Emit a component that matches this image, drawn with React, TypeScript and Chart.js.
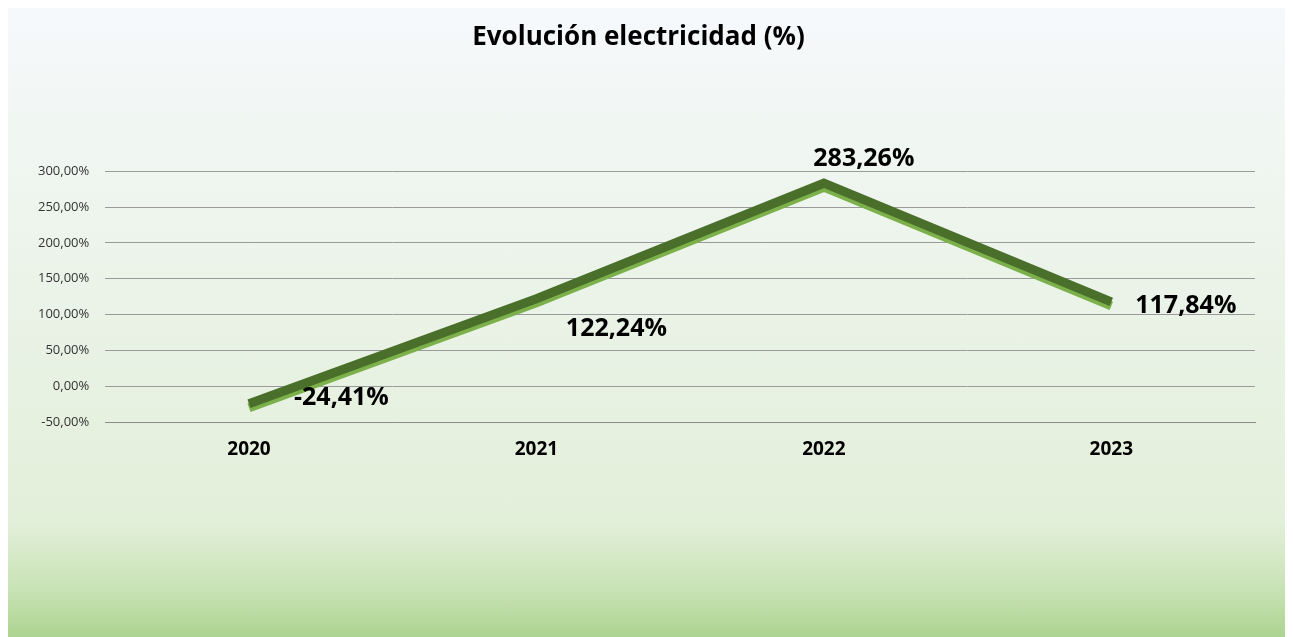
import React, { useEffect, useRef } from "react";
import { Chart, registerables } from "chart.js";

Chart.register(...registerables);

const categories = ["2020", "2021", "2022", "2023"];
const values = [-24.41, 122.24, 283.26, 117.84];
const seriesName = "Evolución electricidad (%)";
const titleText = "Evolución electricidad (%)";
const yMin = -50;
const yMax = 300;
const yStep = 50;

const fmt = (v: number) => v.toFixed(2).replace(".", ",") + "%";

// label placement (style only): offsets from each point
const labelOffsets = [
  { dx: 45, dy: -6, align: "left" },
  { dx: 80, dy: 30, align: "center" },
  { dx: 40, dy: -24, align: "center" },
  { dx: 24, dy: 4, align: "left" },
];

const labelPlugin = {
  id: "pointLabels",
  afterDatasetsDraw(chart: any) {
    const ctx = chart.ctx;
    const meta = chart.getDatasetMeta(0);
    ctx.save();
    ctx.font = "bold 25px 'Open Sans', sans-serif";
    ctx.fillStyle = "#000";
    ctx.textBaseline = "middle";
    meta.data.forEach((pt: any, i: number) => {
      const o = labelOffsets[i];
      ctx.textAlign = o.align;
      ctx.fillText(fmt(values[i]), pt.x + o.dx, pt.y + o.dy);
    });
    ctx.restore();
  },
};

const ribbonPlugin = {
  id: "ribbon",
  beforeDatasetDraw(chart: any) {
    const ctx = chart.ctx;
    ctx.save();
    ctx.shadowColor = "#7cb04a";
    ctx.shadowOffsetX = 0;
    ctx.shadowOffsetY = 4;
    ctx.shadowBlur = 0;
  },
  afterDatasetDraw(chart: any) {
    chart.ctx.restore();
  },
};

export default function App() {
  const ref = useRef<HTMLCanvasElement | null>(null);
  useEffect(() => {
    if (!ref.current) return;
    const chart = new Chart(ref.current, {
      type: "line",
      data: {
        labels: categories,
        datasets: [
          {
            label: seriesName,
            data: values,
            borderColor: "#4a6f2b",
            backgroundColor: "#4a6f2b",
            borderWidth: 9,
            pointRadius: 0,
            tension: 0,
            borderJoinStyle: "miter",
          },
        ],
      },
      options: {
        animation: false,
        responsive: true,
        maintainAspectRatio: false,
        layout: { padding: { top: 10, left: 14, right: 38, bottom: 168 } },
        plugins: {
          legend: { display: false },
          tooltip: { enabled: false },
          title: {
            display: true,
            text: titleText,
            color: "#000",
            font: { family: "'Open Sans', sans-serif", size: 26, weight: "bold" },
            padding: { top: 4, bottom: 118 },
          },
        },
        scales: {
          x: {
            offset: true,
            grid: { display: false },
            border: { display: true, color: "#8c8c8c" },
            ticks: {
              color: "#000",
              font: { family: "'Open Sans', sans-serif", size: 19, weight: "bold" },
              padding: 8,
            },
          },
          y: {
            min: yMin,
            max: yMax,
            ticks: {
              stepSize: yStep,
              color: "#333333",
              font: { family: "'Open Sans', sans-serif", size: 13 },
              padding: 16,
              callback: (v: any) => fmt(Number(v)),
            },
            grid: { color: "#9a9a9a", lineWidth: 1, drawTicks: false },
            border: { display: false },
          },
        },
      },
      plugins: [ribbonPlugin, labelPlugin],
    });
    return () => chart.destroy();
  }, []);

  return (
    <div
      style={{
        width: 1285,
        height: 629,
        position: "relative",
        background:
          "linear-gradient(to bottom, #f6f9fc 0%, #eef5ee 30%, #e2efd9 82%, #c9e3b6 92%, #acd391 100%)",
      }}
    >
      <canvas ref={ref} />
    </div>
  );
}
